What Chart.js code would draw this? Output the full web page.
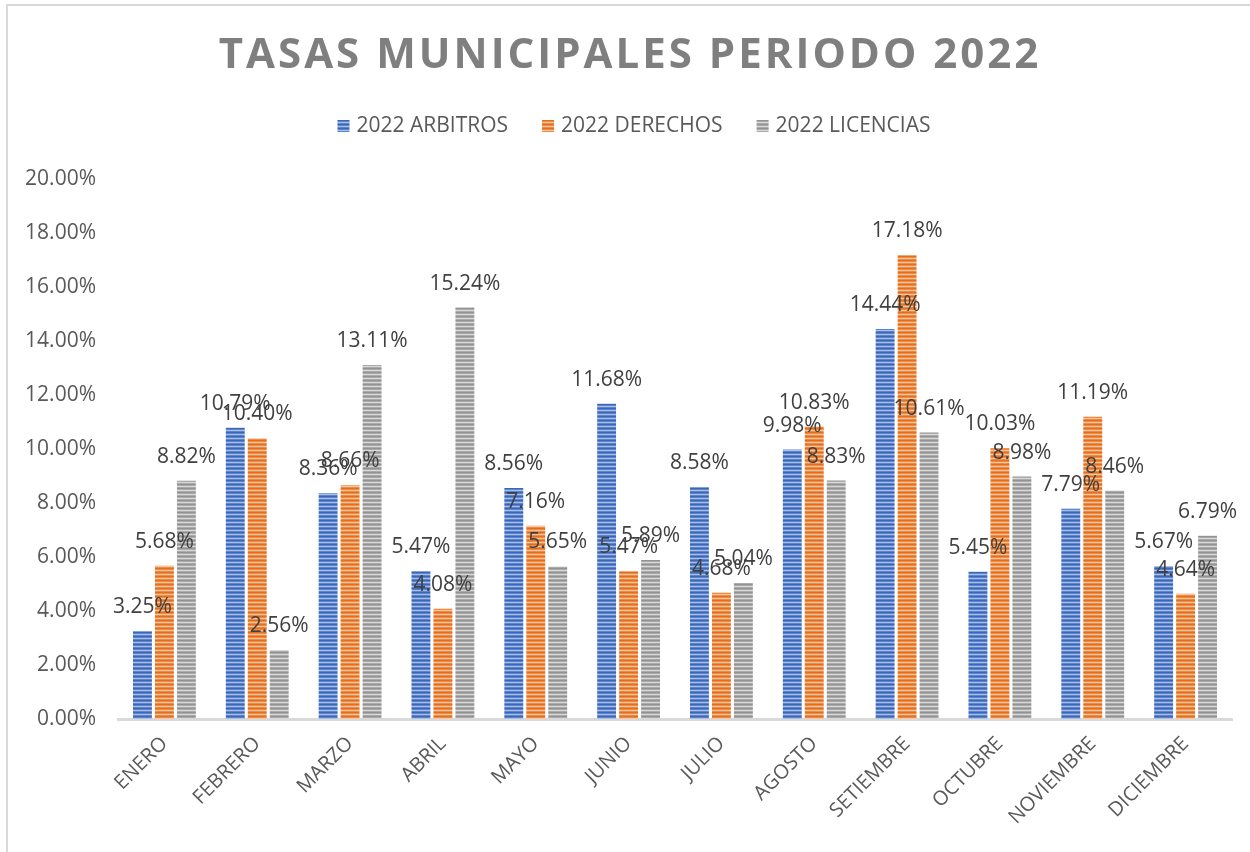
<!DOCTYPE html>
<html lang="es">
<head>
<meta charset="utf-8">
<title>Tasas municipales 2022</title>
<script src="https://cdn.jsdelivr.net/npm/chart.js"></script>
<style>
  html,body{margin:0;padding:0;background:#fff;overflow:hidden}
  #frame{position:absolute;left:6px;top:4px;width:1400px;height:1000px;border:2px solid #d9d9d9}
  #wrap{position:absolute;left:0;top:0;width:1250px;height:852px}
</style>
</head>
<body>
<div id="frame"></div>
<div id="wrap"><canvas id="chart" width="1250" height="852"></canvas></div>

<script>
const meses = ['ENERO','FEBRERO','MARZO','ABRIL','MAYO','JUNIO','JULIO','AGOSTO','SETIEMBRE','OCTUBRE','NOVIEMBRE','DICIEMBRE'];
const arbitros  = [3.25, 10.79, 8.36, 5.47, 8.56, 11.68, 8.58, 9.98, 14.44, 5.45, 7.79, 5.67];
const derechos  = [5.68, 10.40, 8.66, 4.08, 7.16, 5.47, 4.68, 10.83, 17.18, 10.03, 11.19, 4.64];
const licencias = [8.82, 2.56, 13.11, 15.24, 5.65, 5.89, 5.04, 8.83, 10.61, 8.98, 8.46, 6.79];
const yTicks = [0, 2, 4, 6, 8, 10, 12, 14, 16, 18, 20];

const titulo = 'TASAS MUNICIPALES PERIODO 2022';
const FONT = '"Open Sans", sans-serif';

// rayas horizontales como en Excel
function rayas(base, oscuro, claro) {
  const c = document.createElement('canvas');
  c.width = 4; c.height = 4;
  const g = c.getContext('2d');
  g.fillStyle = base; g.fillRect(0, 0, 4, 4);
  g.fillStyle = oscuro; g.fillRect(0, 0, 4, 1);
  g.fillStyle = claro; g.fillRect(0, 2, 4, 1);
  return g.createPattern(c, 'repeat');
}

const series = [
  { label: '2022 ARBITROS',  data: arbitros,  bg: rayas('#5b84cc', '#3d66b6', '#a9bfe6') },
  { label: '2022 DERECHOS',  data: derechos,  bg: rayas('#ef8a45', '#e0701f', '#f8c7a2') },
  { label: '2022 LICENCIAS', data: licencias, bg: rayas('#ababab', '#929292', '#d8d8d8') }
];

const textoPlugin = {
  id: 'texto',
  afterDatasetsDraw(chart) {
    const ctx = chart.ctx;
    ctx.save();
    ctx.font = '21px ' + FONT;
    ctx.fillStyle = '#404040';
    ctx.textAlign = 'center';
    ctx.textBaseline = 'middle';
    chart.data.datasets.forEach((ds, i) => {
      chart.getDatasetMeta(i).data.forEach((bar, j) => {
        ctx.fillText(ds.data[j].toFixed(2) + '%', bar.x, bar.y - 24);
      });
    });
    ctx.restore();
  },
  afterDraw(chart) {
    const ctx = chart.ctx;
    const cx = 630;
    ctx.save();
    // titulo
    ctx.font = 'bold 42px ' + FONT;
    ctx.fillStyle = '#7f7f7f';
    ctx.letterSpacing = '3px';
    ctx.textAlign = 'center';
    ctx.textBaseline = 'middle';
    ctx.fillText(titulo, cx, 56);
    ctx.letterSpacing = '0px';
    // leyenda
    ctx.font = '21px ' + FONT;
    ctx.textAlign = 'left';
    const box = 12, gapTxt = 7, gapItem = 34;
    const anchos = series.map(s => box + gapTxt + ctx.measureText(s.label).width);
    const total = anchos.reduce((a, b) => a + b, 0) + gapItem * (series.length - 1);
    let x = cx + 4 - total / 2;
    const y = 126;
    series.forEach((s, i) => {
      ctx.fillStyle = s.bg;
      ctx.fillRect(x, y - box / 2, box, box);
      ctx.fillStyle = '#595959';
      ctx.fillText(s.label, x + box + gapTxt, y);
      x += anchos[i] + gapItem;
    });
    ctx.restore();
  }
};

new Chart(document.getElementById('chart'), {
  type: 'bar',
  data: {
    labels: meses,
    datasets: series.map(s => ({
      label: s.label,
      data: s.data,
      backgroundColor: s.bg,
      borderWidth: 0,
      categoryPercentage: 0.71,
      barPercentage: 0.86
    }))
  },
  options: {
    responsive: false,
    animation: false,
    layout: { padding: { top: 179, right: 18, bottom: 0, left: 0 } },
    plugins: {
      legend: { display: false },
      title: { display: false },
      tooltip: { enabled: false }
    },
    scales: {
      x: {
        grid: { display: false, drawTicks: false },
        border: { display: true, color: '#d9d9d9', width: 3 },
        ticks: {
          color: '#595959',
          font: { family: FONT, size: 20 },
          minRotation: 45,
          maxRotation: 45,
          padding: 13
        },
        afterFit(scale) { scale.height = 133; }
      },
      y: {
        min: 0,
        max: 20,
        grid: { display: false, drawTicks: false },
        border: { display: false },
        afterBuildTicks(scale) { scale.ticks = yTicks.map(v => ({ value: v })); },
        ticks: {
          color: '#595959',
          font: { family: FONT, size: 21 },
          padding: 22,
          callback: v => v.toFixed(2) + '%'
        },
        afterFit(scale) { scale.width = 118; }
      }
    }
  },
  plugins: [textoPlugin]
});
</script>
</body>
</html>
